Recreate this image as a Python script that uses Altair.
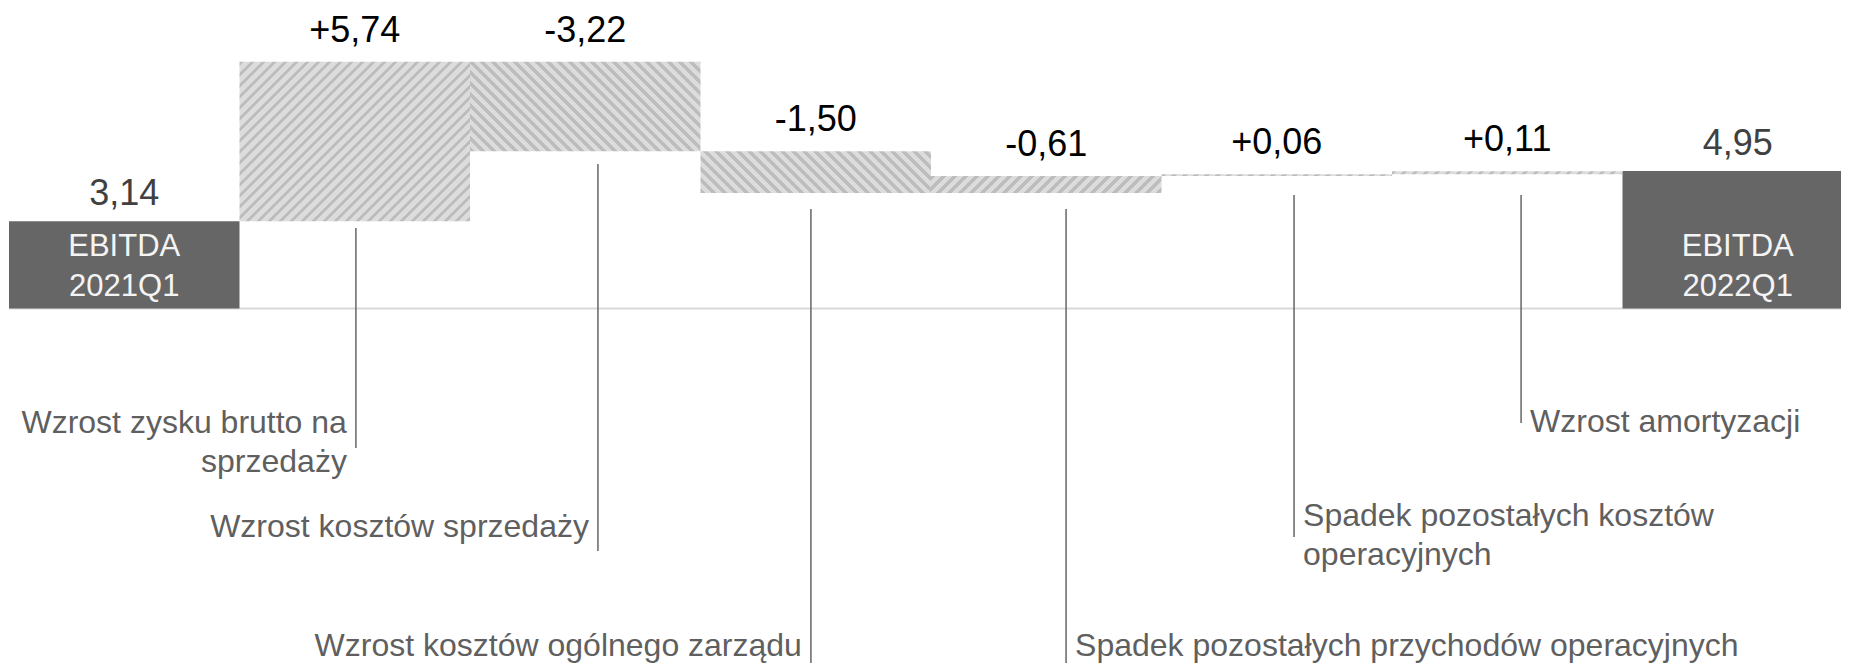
import math
import altair as alt
import pandas as pd

# ---------------- data ----------------
start_label = "EBITDA\n2021Q1"
end_label = "EBITDA\n2022Q1"
start_value = 3.14
end_value = 4.95
start_text = "3,14"
end_text = "4,95"

step_changes = [5.74, -3.22, -1.50, 0.61, 0.06, 0.11]
step_texts = ["+5,74", "-3,22", "-1,50", "-0,61", "+0,06", "+0,11"]
step_names = [
    "Wzrost zysku brutto na\nsprzedaży",
    "Wzrost kosztów sprzedaży",
    "Wzrost kosztów ogólnego zarządu",
    "Spadek pozostałych przychodów operacyjnych",
    "Spadek pozostałych kosztów\noperacyjnych",
    "Wzrost amortyzacji",
]

# ---------------- layout (annotation placement, in axis units) ----------------
leader_x = [1.505, 2.555, 3.479, 4.586, 5.575, 6.56]
leader_top = [2.90, 5.20, 3.58, 3.58, 4.08, 4.08]
leader_bottom = [-5.02, -8.72, -12.75, -12.75, -8.22, -4.12]
label_y = [-4.48, -8.22, -12.50, -12.50, -7.82, -4.44]
label_side = ["left", "left", "left", "right", "right", "right"]

BAND = 230.5            # px per category
W, H = 1832, 655        # fits inside the page without scrolling
Y_DOMAIN = [-12.75, 10.81]
FONT = "Liberation Sans"

n_steps = len(step_changes)
n_bands = n_steps + 2
cum = [start_value]
for d in step_changes:
    cum.append(cum[-1] + d)

rows = [dict(pos=0, lo=0.0, hi=start_value, txt=start_text, name=start_label, kind="total")]
for i, d in enumerate(step_changes):
    a, b = cum[i], cum[i + 1]
    rows.append(dict(pos=i + 1, lo=min(a, b), hi=max(a, b), txt=step_texts[i],
                     name=step_names[i], kind="up" if d > 0 else "down"))
rows.append(dict(pos=n_bands - 1, lo=0.0, hi=end_value, txt=end_text, name=end_label, kind="total"))
df = pd.DataFrame(rows)
df["pos2"] = df["pos"] + 1
df["mid"] = df["pos"] + 0.5

ann = pd.DataFrame(dict(lx=leader_x, ltop=leader_top, lbot=leader_bottom,
                        ly=label_y, name=step_names, side=label_side))

xs = alt.Scale(domain=[0, W / BAND], nice=False, zero=False)
ys = alt.Scale(domain=Y_DOMAIN, nice=False, zero=False)
px_per_unit = H / (Y_DOMAIN[1] - Y_DOMAIN[0])

LIGHT = "#dcdcdc"
DARK = "#bdbdbd"
PERIOD = 11.0   # horizontal hatch period (px)
FRAC = 0.42


def hatch(w, h, direction):
    h = max(h, 0.5)
    c = (1 / h + 1 / w) / (1 / h ** 2 + 1 / w ** 2)
    n = (w + h) / PERIOD
    stops = []
    k = 0
    while k / n < 1:
        o0 = k / n
        o1 = min((k + FRAC) / n, 1.0)
        o2 = min((k + 1) / n, 1.0)
        stops += [alt.GradientStop(offset=o0, color=DARK),
                  alt.GradientStop(offset=o1, color=DARK),
                  alt.GradientStop(offset=o1, color=LIGHT),
                  alt.GradientStop(offset=o2, color=LIGHT)]
        k += 1
    if direction == "up":   # "/" stripes
        return alt.LinearGradient(gradient="linear", stops=stops,
                                  x1=0, y1=0, x2=c / h, y2=c / w)
    return alt.LinearGradient(gradient="linear", stops=stops,   # "\" stripes
                              x1=0, y1=1, x2=c / h, y2=1 - c / w)


def xenc(field="pos"):
    return alt.X(f"{field}:Q", scale=xs, axis=None)


def yenc(field):
    return alt.Y(f"{field}:Q", scale=ys, axis=None)


base = alt.Chart(df)

baseline = alt.Chart(pd.DataFrame({"a": [0], "b": [n_bands], "y": [0]})).mark_rule(
    color="#d9d9d9", strokeWidth=2
).encode(x=alt.X("a:Q", scale=xs, axis=None), x2="b:Q", y=yenc("y"))

totals = base.transform_filter("datum.kind == 'total'").mark_rect(color="#666666").encode(
    x=xenc(), x2="pos2:Q", y=yenc("lo"), y2="hi:Q")

step_layers = []
for i in range(n_steps):
    r = rows[i + 1]
    g = hatch(BAND, (r["hi"] - r["lo"]) * px_per_unit, r["kind"])
    step_layers.append(
        alt.Chart(df.iloc[[i + 1]]).mark_rect(fill=g, strokeWidth=0).encode(
            x=xenc(), x2="pos2:Q", y=yenc("lo"), y2="hi:Q"))

step_vals = base.transform_filter("datum.kind != 'total'").mark_text(
    font=FONT, fontSize=36, color="#000000", baseline="alphabetic", dy=-20
).encode(x=xenc("mid"), y=yenc("hi"), text="txt:N")

total_vals = base.transform_filter("datum.kind == 'total'").mark_text(
    font=FONT, fontSize=36, color="#404040", baseline="alphabetic", dy=-16
).encode(x=xenc("mid"), y=yenc("hi"), text="txt:N")

total_names = base.transform_filter("datum.kind == 'total'").transform_calculate(
    ny="1.89").mark_text(
    font=FONT, fontSize=31, color="#f4f4f4", baseline="alphabetic",
    lineBreak="\n", lineHeight=40
).encode(x=xenc("mid"), y=yenc("ny"), text="name:N")

leaders = alt.Chart(ann).mark_rule(color="#666666", strokeWidth=1.5).encode(
    x=alt.X("lx:Q", scale=xs, axis=None), y=yenc("ltop"), y2="lbot:Q")

labels_left = alt.Chart(ann).transform_filter("datum.side == 'left'").mark_text(
    font=FONT, fontSize=32, color="#5f5f5f", align="right", baseline="alphabetic",
    dx=-9, lineBreak="\n", lineHeight=39
).encode(x=alt.X("lx:Q", scale=xs, axis=None), y=yenc("ly"), text="name:N")

labels_right = alt.Chart(ann).transform_filter("datum.side == 'right'").mark_text(
    font=FONT, fontSize=32, color="#5f5f5f", align="left", baseline="alphabetic",
    dx=9, lineBreak="\n", lineHeight=39
).encode(x=alt.X("lx:Q", scale=xs, axis=None), y=yenc("ly"), text="name:N")

chart = alt.layer(
    baseline, totals, *step_layers, step_vals, total_vals, total_names,
    leaders, labels_left, labels_right
).properties(
    width=W, height=H,
    padding={"left": 1, "right": 0, "top": 0, "bottom": 0},
    autosize=alt.AutoSizeParams(type="none"),
).configure_view(stroke=None)

chart.save("out.html", embed_options={"renderer": "svg", "actions": False})
